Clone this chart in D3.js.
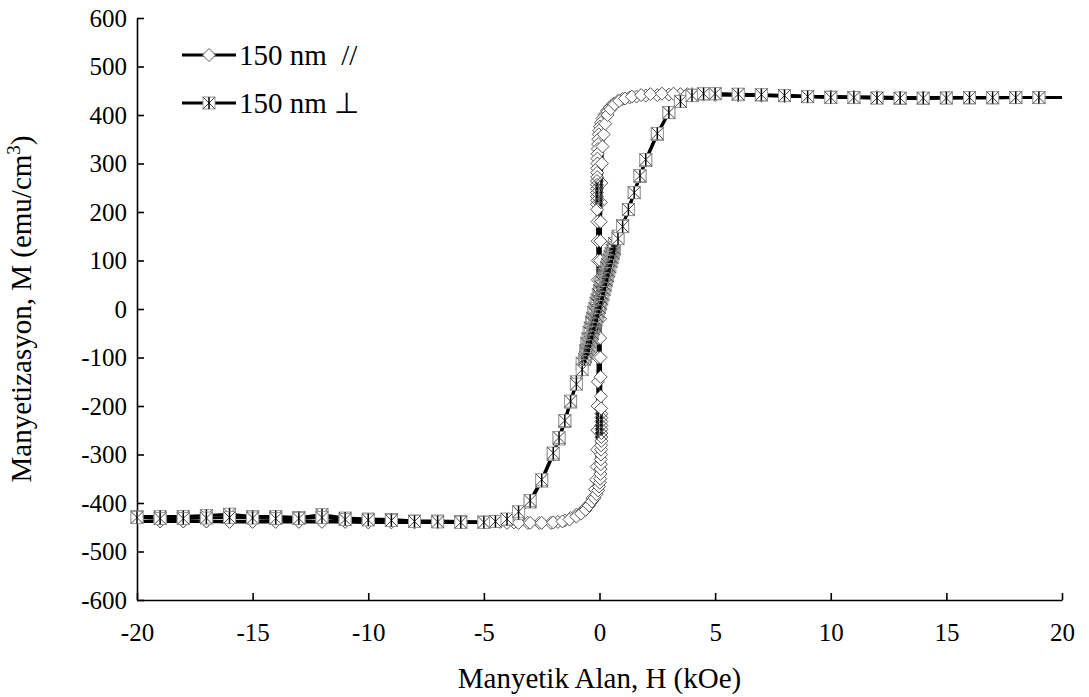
<!DOCTYPE html>
<html>
<head>
<meta charset="utf-8">
<script src="https://cdn.jsdelivr.net/npm/d3@7"></script>
<style>
  body { margin: 0; background: #fff; }
</style>
</head>
<body>
<svg width="1089" height="697"></svg>
<script>
var width = 1089;
var height = 697;
var serif = "'Liberation Serif'";

// H (kOe), M (emu/cm3)
// 150 nm //, field going down from +20
var parDown = [
  [20, 436], [19, 436], [18, 436], [17, 436], [16, 436], [15, 436], [14, 436], [13, 436],
  [12, 437], [11, 437], [10, 438], [9, 438], [8, 439], [7, 440], [6, 441], [5, 442],
  [4, 443], [3.5, 443], [3, 442], [2.5, 441], [2, 440], [1.6, 438], [1.3, 436], [1, 433],
  [0.8, 429], [0.6, 423], [0.45, 416], [0.33, 409], [0.22, 401], [0.13, 393], [0.06, 384],
  [0.02, 376], [-0.01, 368], [-0.03, 360], [-0.05, 350], [-0.06, 340], [-0.07, 330],
  [-0.08, 320], [-0.09, 310], [-0.09, 300], [-0.1, 290], [-0.1, 281], [-0.1, 272],
  [-0.11, 264], [-0.11, 256], [-0.11, 248], [-0.11, 240], [-0.11, 232], [-0.11, 224],
  [-0.11, 216], [-0.1, 205], [-0.09, 180], [-0.08, 140], [-0.07, 100], [-0.07, 60],
  [-0.06, 20], [-0.06, -20], [-0.06, -60], [-0.06, -100], [-0.07, -150], [-0.08, -200],
  [-0.09, -250], [-0.1, -290], [-0.12, -325], [-0.15, -352], [-0.2, -372], [-0.3, -390],
  [-0.42, -401], [-0.56, -409], [-0.75, -417], [-1, -424], [-1.25, -431], [-1.5, -436],
  [-1.8, -439], [-2.1, -441], [-2.6, -441], [-3.1, -441], [-3.7, -440], [-4.3, -439],
  [-5, -439], [-6, -439], [-7, -439], [-8, -439], [-9, -439], [-10, -439], [-11, -438],
  [-12, -438], [-13, -438], [-14, -438], [-15, -438], [-16, -438], [-17, -438],
  [-18, -438], [-19, -438], [-20, -438]
];

// 150 nm //, field going up from -20
var parUp = [
  [-20, -438], [-19, -438], [-18, -438], [-17, -438], [-16, -439], [-15, -439], [-14, -439],
  [-13, -439], [-12, -439], [-11, -439], [-10, -440], [-9, -440], [-8, -440], [-7, -440],
  [-6, -440], [-5, -440], [-4, -441], [-3.5, -441], [-3, -441], [-2.5, -441], [-2, -440],
  [-1.6, -438], [-1.3, -434], [-1, -428], [-0.8, -422], [-0.6, -414], [-0.45, -405],
  [-0.33, -397], [-0.22, -390], [-0.13, -382], [-0.06, -374], [-0.02, -366], [0.01, -358],
  [0.03, -350], [0.04, -340], [0.05, -330], [0.06, -320], [0.06, -310], [0.07, -300],
  [0.07, -290], [0.07, -281], [0.08, -272], [0.08, -264], [0.08, -256], [0.08, -248],
  [0.08, -240], [0.08, -232], [0.08, -224], [0.08, -216], [0.07, -205], [0.06, -180],
  [0.05, -140], [0.04, -100], [0.03, -60], [0.03, -20], [0.03, 20], [0.03, 60], [0.03, 100],
  [0.04, 140], [0.05, 180], [0.06, 220], [0.08, 260], [0.1, 300], [0.13, 335], [0.18, 360],
  [0.25, 382], [0.35, 400], [0.48, 412], [0.65, 422], [0.85, 429], [1.1, 434], [1.4, 438],
  [1.8, 441], [2.2, 443], [2.7, 444], [3.2, 444], [3.8, 443], [4.5, 442], [5, 441],
  [6, 441], [7, 440], [8, 439], [9, 438], [10, 437], [11, 437], [12, 436], [13, 436],
  [14, 436], [15, 436], [16, 436], [17, 436], [18, 436], [19, 436], [20, 436]
];

// 150 nm perpendicular, field going down from +20
var perpDown = [
  [20, 436], [19, 436], [18, 436], [17, 435], [16, 435], [15, 435], [14, 434], [13, 434],
  [12, 435], [11, 436], [10, 437], [9, 438], [8, 440], [7, 441], [6, 442], [5, 444],
  [4.5, 443], [4, 441], [3.5, 428], [3, 405], [2.5, 360], [2, 306], [1.75, 273],
  [1.5, 240], [1.25, 205], [1, 172], [0.8, 150], [0.65, 135], [0.6, 127], [0.55, 121],
  [0.5, 114], [0.45, 108], [0.4, 101], [0.35, 92], [0.3, 86], [0.25, 77], [0.2, 71],
  [0.15, 62], [0.1, 56], [0.05, 46], [0, 38], [-0.05, 30], [-0.1, 19], [-0.15, 12],
  [-0.2, 1], [-0.25, -7], [-0.3, -19], [-0.35, -27], [-0.4, -39], [-0.45, -48],
  [-0.5, -61], [-0.55, -71], [-0.6, -86], [-0.75, -112], [-1, -150], [-1.25, -192],
  [-1.5, -232], [-1.75, -268], [-2, -300], [-2.5, -355], [-3, -398], [-3.5, -422],
  [-4, -434], [-4.5, -438], [-5, -439], [-6, -438], [-7, -437], [-8, -437], [-9, -434],
  [-10, -433], [-11, -431], [-12, -424], [-13, -430], [-14, -428], [-15, -428],
  [-16, -423], [-17, -426], [-18, -428], [-19, -428], [-20, -428]
];

// 150 nm perpendicular, field going up from -20
var perpUp = [
  [-20, -430], [-19, -432], [-18, -432], [-17, -431], [-16, -430], [-15, -431], [-14, -432],
  [-13, -432], [-12, -430], [-11, -434], [-10, -435], [-9, -436], [-8, -438], [-7, -439],
  [-6, -440], [-5, -440], [-4.5, -438], [-4, -433], [-3.5, -418], [-3, -395], [-2.5, -352],
  [-2, -297], [-1.75, -265], [-1.5, -230], [-1.25, -190], [-1, -155], [-0.75, -125],
  [-0.65, -104], [-0.6, -99], [-0.55, -91], [-0.5, -84], [-0.45, -77], [-0.4, -68],
  [-0.35, -60], [-0.3, -51], [-0.25, -41], [-0.2, -33], [-0.15, -23], [-0.1, -15],
  [-0.05, -6], [0, 3], [0.05, 11], [0.1, 21], [0.15, 30], [0.2, 40], [0.25, 49],
  [0.3, 59], [0.35, 68], [0.4, 78], [0.45, 87], [0.5, 98], [0.55, 106], [0.6, 115],
  [0.65, 124], [0.8, 145], [1, 170], [1.25, 205], [1.5, 240], [1.75, 275], [2, 308],
  [2.5, 362], [3, 405], [3.5, 428], [4, 440], [4.5, 444], [5, 444], [6, 443], [7, 442],
  [8, 440], [9, 438], [10, 436], [11, 436], [12, 435], [13, 435], [14, 435], [15, 435],
  [16, 436], [17, 436], [18, 436], [19, 436], [20, 436]
];

var xTicks = [-20, -15, -10, -5, 0, 5, 10, 15, 20];
var yTicks = [-600, -500, -400, -300, -200, -100, 0, 100, 200, 300, 400, 500, 600];
var legendNames = ["150 nm  //", "150 nm \u22A5"];

var svg = d3.select("svg");

var padding = { top: 18, right: 27, bottom: 97, left: 137 };

var xScale = d3
  .scaleLinear()
  .domain([-20, 20])
  .range([padding.left, width - padding.right]);

var yScale = d3
  .scaleLinear()
  .domain([-600, 600])
  .range([height - padding.bottom, padding.top]);

var line = d3
  .line()
  .x(d => xScale(d[0]))
  .y(d => yScale(d[1]));

// plain hyphen for negatives, like the original
var fmt = d => String(d);

function drawDiamond(g, fill) {
  g.append("path")
    .attr("d", "M0,-6.5L6.5,0L0,6.5L-6.5,0Z")
    .attr("fill", fill)
    .attr("stroke", "#555")
    .attr("stroke-width", 1);
}

function drawStar(g, fill) {
  g.append("rect")
    .attr("x", -6).attr("y", -6).attr("width", 12).attr("height", 12)
    .attr("fill", fill)
    .attr("stroke", "#999")
    .attr("stroke-width", 1);
  g.append("path")
    .attr("d", "M-6,-6L6,6M6,-6L-6,6")
    .attr("stroke", "#444")
    .attr("stroke-width", 1);
  g.append("path")
    .attr("d", "M0,-6L0,6")
    .attr("stroke", "#000")
    .attr("stroke-width", 1.5);
}

// axes
var yAxis = svg
  .append("g")
  .attr("transform", "translate(" + padding.left + ",0)")
  .call(d3.axisLeft(yScale).tickValues(yTicks).tickFormat(fmt).tickSize(-7).tickSizeOuter(0).tickPadding(10));

var xAxis = svg
  .append("g")
  .attr("transform", "translate(0," + (height - padding.bottom) + ")")
  .call(d3.axisBottom(xScale).tickValues(xTicks).tickFormat(fmt).tickSize(-7).tickSizeOuter(0).tickPadding(23));

[yAxis, xAxis].forEach(function(a) {
  a.attr("font-family", null).attr("font-size", null);
  a.select(".domain").attr("stroke", "#000").attr("stroke-width", 1.6);
  a.selectAll(".tick line").attr("stroke", "#000").attr("stroke-width", 1.6);
  a.selectAll(".tick text")
    .style("font-family", serif)
    .style("font-size", "25px")
    .attr("fill", "#000");
});

// series 1: 150 nm //
var s1 = svg.append("g");
[parDown, parUp].forEach(function(branch) {
  s1.append("path")
    .datum(branch)
    .attr("d", line)
    .attr("fill", "none")
    .attr("stroke", "#000")
    .attr("stroke-width", 3);
});
[parDown, parUp].forEach(function(branch) {
  s1.selectAll(null)
    .data(branch.filter(d => Math.abs(d[0]) < 20))
    .enter()
    .append("g")
    .attr("transform", d => "translate(" + xScale(d[0]) + "," + yScale(d[1]) + ")")
    .each(function(d) {
      // packed markers near the switching field read as a dark stack
      var packed = Math.abs(d[0]) < 0.13 && Math.abs(d[1]) > 210 && Math.abs(d[1]) < 270;
      drawDiamond(d3.select(this), packed ? "none" : "#fff");
    });
});

// series 2: 150 nm perpendicular
var s2 = svg.append("g");
[perpDown, perpUp].forEach(function(branch) {
  s2.append("path")
    .datum(branch)
    .attr("d", line)
    .attr("fill", "none")
    .attr("stroke", "#000")
    .attr("stroke-width", 3);
});
[perpDown, perpUp].forEach(function(branch) {
  s2.selectAll(null)
    .data(branch.filter(d => d[0] < 20))
    .enter()
    .append("g")
    .attr("transform", d => "translate(" + xScale(d[0]) + "," + yScale(d[1]) + ")")
    .each(function(d) {
      drawStar(d3.select(this), Math.abs(d[0]) < 0.7 ? "none" : "#fff");
    });
});

// axis titles
svg
  .append("text")
  .attr("x", xScale(0))
  .attr("y", 688)
  .attr("text-anchor", "middle")
  .style("font-family", serif)
  .style("font-size", "29px")
  .text("Manyetik Alan, H (kOe)");

var yTitle = svg
  .append("text")
  .attr("transform", "translate(31," + yScale(0) + ") rotate(-90)")
  .attr("text-anchor", "middle")
  .style("font-family", serif)
  .style("font-size", "29px");
yTitle.append("tspan").text("Manyetizasyon, M (emu/cm");
yTitle.append("tspan").attr("dy", -11).style("font-size", "19px").text("3");
yTitle.append("tspan").attr("dy", 11).text(")");

// legend
var legend = svg
  .selectAll(".legend")
  .data(legendNames)
  .enter()
  .append("g")
  .attr("class", "legend")
  .attr("transform", (d, i) => "translate(182," + (55 + i * 48) + ")");

legend
  .append("line")
  .attr("x1", 0)
  .attr("x2", 54)
  .attr("stroke", "#000")
  .attr("stroke-width", 3);

legend.each(function(d, i) {
  var m = d3.select(this).append("g").attr("transform", "translate(27,0)");
  if (i === 0) drawDiamond(m, "#fff");
  else drawStar(m, "#fff");
});

legend
  .append("text")
  .attr("x", 57)
  .attr("y", 10)
  .style("font-family", serif)
  .style("font-size", "29px")
  .style("white-space", "pre")
  .text(d => d);
</script>
</body>
</html>
